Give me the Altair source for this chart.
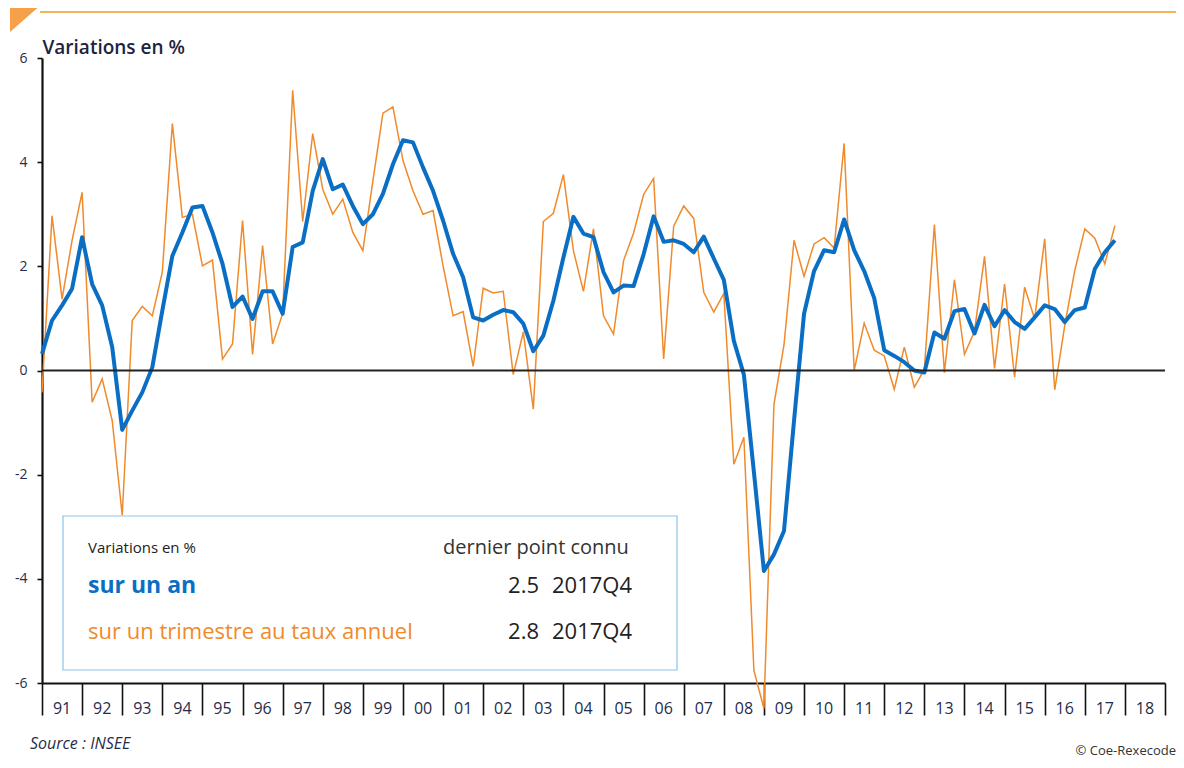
import altair as alt
import pandas as pd

# ---- data ----
start_year = 1991
sur_un_an = [
    0.32, 0.96, 1.25, 1.57, 2.56, 1.66, 1.25, 0.45,
    -1.14, -0.77, -0.42, 0.06, 1.15, 2.20, 2.65, 3.13,
    3.16, 2.65, 2.05, 1.22, 1.42, 0.99, 1.52, 1.52,
    1.09, 2.37, 2.46, 3.45, 4.06, 3.48, 3.57, 3.16,
    2.81, 3.00, 3.39, 3.96, 4.42, 4.38, 3.90, 3.45,
    2.88, 2.24, 1.79, 1.02, 0.96, 1.07, 1.16, 1.12,
    0.90, 0.37, 0.67, 1.34, 2.17, 2.95, 2.63, 2.56,
    1.89, 1.50, 1.63, 1.62, 2.23, 2.96, 2.47, 2.50,
    2.43, 2.27, 2.57, 2.15, 1.74, 0.57, -0.08, -1.95,
    -3.85, -3.53, -3.08, -0.97, 1.09, 1.91, 2.31, 2.27,
    2.90, 2.31, 1.91, 1.39, 0.39, 0.28, 0.16, 0.00,
    -0.04, 0.73, 0.61, 1.14, 1.18, 0.71, 1.26, 0.85,
    1.16, 0.93, 0.80, 1.02, 1.25, 1.18, 0.93, 1.16,
    1.21, 1.95, 2.27, 2.50,
]
sur_un_trimestre = [
    -0.42, 2.97, 1.37, 2.50, 3.42, -0.61, -0.16, -0.96,
    -2.78, 0.96, 1.23, 1.05, 1.89, 4.74, 2.94, 3.00,
    2.01, 2.12, 0.22, 0.51, 2.88, 0.31, 2.40, 0.51,
    1.09, 5.38, 2.86, 4.55, 3.48, 3.00, 3.29, 2.65,
    2.30, 3.64, 4.94, 5.06, 4.03, 3.45, 3.00, 3.07,
    2.01, 1.05, 1.13, 0.08, 1.58, 1.49, 1.52, -0.08,
    0.74, -0.74, 2.86, 3.02, 3.76, 2.30, 1.52, 2.72,
    1.05, 0.70, 2.11, 2.64, 3.38, 3.69, 0.22, 2.77,
    3.16, 2.92, 1.50, 1.12, 1.48, -1.80, -1.28, -5.76,
    -6.49, -0.65, 0.49, 2.50, 1.81, 2.43, 2.55, 2.35,
    4.36, 0.00, 0.91, 0.39, 0.28, -0.36, 0.45, -0.32,
    0.02, 2.80, -0.04, 1.74, 0.31, 0.75, 2.19, 0.04,
    1.66, -0.13, 1.60, 0.99, 2.53, -0.37, 0.86, 1.92,
    2.72, 2.54, 2.05, 2.78,
]
year_labels = ["91", "92", "93", "94", "95", "96", "97", "98", "99", "00",
               "01", "02", "03", "04", "05", "06", "07", "08", "09", "10",
               "11", "12", "13", "14", "15", "16", "17", "18"]
y_ticks = [-6, -4, -2, 0, 2, 4, 6]
last_period = "2017Q4"
axis_title = "Variations en %"
legend_header = ["Variations en %", "dernier point connu"]
series_names = ["sur un an", "sur un trimestre au taux annuel"]
source_text = "Source : INSEE"
copyright_text = "\u00a9 Coe-Rexecode"

BLUE = "#0A6FC4"
ORANGE = "#F08A2A"
FONT = "Open Sans"
W, H = 1123, 625

t = [start_year + i / 4 for i in range(len(sur_un_an))]
df_blue = pd.DataFrame({"t": t, "v": sur_un_an})
df_orange = pd.DataFrame({"t": t, "v": sur_un_trimestre})
n_years = len(year_labels)
x_dom = [start_year, start_year + n_years]
df_years = pd.DataFrame({"x": [start_year + k + 0.5 for k in range(n_years)],
                         "lab": year_labels})

xscale = alt.Scale(domain=x_dom, nice=False, zero=False)
yscale = alt.Scale(domain=[y_ticks[0], y_ticks[-1]], nice=False)

xaxis = alt.Axis(values=list(range(x_dom[0], x_dom[1] + 1)), labels=False, title=None,
                 grid=False, tickSize=32, tickColor="#111111", tickWidth=1.6,
                 domainColor="#111111", domainWidth=2.2)
yaxis = alt.Axis(values=y_ticks, grid=False, tickSize=5, tickColor="#111111", tickWidth=1.6,
                 domainColor="#111111", domainWidth=2.2, labelFont=FONT, labelFontSize=14,
                 labelColor="#1F2D4D", labelPadding=10,
                 labelExpr="toString(datum.value)",
                 title=axis_title, titleAngle=0, titleX=0, titleY=-5, titleAlign="left",
                 titleBaseline="alphabetic", titleFont=FONT, titleFontSize=19,
                 titleFontWeight=600, titleColor="#1C2340")

orange_line = alt.Chart(df_orange).mark_line(color=ORANGE, strokeWidth=1.5).encode(
    x=alt.X("t:Q", scale=xscale, axis=xaxis),
    y=alt.Y("v:Q", scale=yscale, axis=yaxis),
)
blue_line = alt.Chart(df_blue).mark_line(color=BLUE, strokeWidth=4, strokeJoin="round").encode(
    x=alt.X("t:Q", scale=xscale),
    y=alt.Y("v:Q", scale=yscale),
)
zero_rule = alt.Chart(pd.DataFrame({"z": [0]})).mark_rule(color="#222222", strokeWidth=2).encode(
    y=alt.Y("z:Q", scale=yscale)
)
years_text = alt.Chart(df_years).mark_text(font=FONT, fontSize=16, color="#1F2D4D",
                                           baseline="middle").encode(
    x=alt.X("x:Q", scale=xscale), y=alt.value(651), text="lab:N"
)

# decorations
top_rule = alt.Chart(pd.DataFrame({"a": [0]})).mark_rule(color="#F9B25C", strokeWidth=2).encode(
    x=alt.value(-2), x2=alt.value(1142), y=alt.value(-46)
)
corner = alt.Chart(pd.DataFrame({"a": [0]})).mark_point(
    shape="M -1 -1 L 1 -1 L 1 -0.75 L -1 1 Z", filled=True, color="#F7A04A", opacity=1,
    size=1024, strokeWidth=0
).encode(x=alt.value(-16), y=alt.value(-42))

# legend box
box = alt.Chart(pd.DataFrame({"a": [0]})).mark_rect(fill="white", stroke="#8CC4E8",
                                                     strokeWidth=1.2).encode(
    x=alt.value(21), x2=alt.value(635), y=alt.value(458), y2=alt.value(612)
)
leg_rows = pd.DataFrame({
    "txt": [legend_header[0], legend_header[1], series_names[0], series_names[1],
            f"{sur_un_an[-1]:.1f}", last_period, f"{sur_un_trimestre[-1]:.1f}", last_period],
    "kind": ["h1", "h2", "s1", "s2", "n", "p", "n", "p"],
})


def legend_text(i, x, y, align, size, color, weight="normal", font=FONT):
    d = leg_rows.iloc[[i]]
    return alt.Chart(d).mark_text(align=align, baseline="middle", font=font, fontSize=size,
                                  color=color, fontWeight=weight).encode(
        x=alt.value(x), y=alt.value(y), text="txt:N")


legend_layers = [
    legend_text(0, 46, 490, "left", 15, "#222222", weight=500),
    legend_text(1, 401, 490, "left", 20, "#333333"),
    legend_text(2, 46, 528, "left", 23, BLUE, weight="bold"),
    legend_text(3, 46, 574, "left", 22, ORANGE),
    legend_text(4, 497, 528, "right", 22, "#222222"),
    legend_text(5, 510, 528, "left", 22, "#222222"),
    legend_text(6, 497, 574, "right", 22, "#222222"),
    legend_text(7, 510, 574, "left", 22, "#222222"),
]

foot = pd.DataFrame({"txt": [source_text, copyright_text]})
source = alt.Chart(foot.iloc[[0]]).mark_text(align="left", baseline="middle", font=FONT,
                                            fontSize=16, fontStyle="italic",
                                            color="#1F2D4D").encode(
    x=alt.value(-12), y=alt.value(686), text="txt:N")
copy = alt.Chart(foot.iloc[[1]]).mark_text(align="right", baseline="middle", font=FONT,
                                          fontSize=13, color="#333333").encode(
    x=alt.value(1134), y=alt.value(693), text="txt:N")

chart = alt.layer(
    orange_line, blue_line, zero_rule, years_text, top_rule, corner, box,
    *legend_layers, source, copy
).properties(
    width=W, height=H,
    background="white",
    autosize=alt.AutoSizeParams(type="none"),
    padding={"left": 34, "top": 50, "right": 11, "bottom": 77},
).configure_view(stroke=None)

chart.save("out.html", embed_options={"renderer": "svg", "actions": False})
